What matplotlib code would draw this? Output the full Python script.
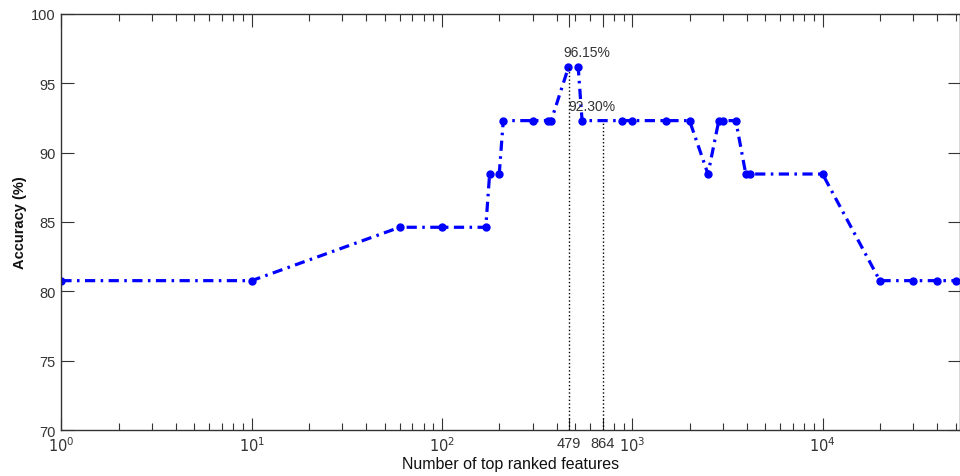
import matplotlib
matplotlib.use('Agg')
import matplotlib.pyplot as plt
from matplotlib.ticker import FixedLocator, LogLocator, NullFormatter

plt.rcParams['font.family'] = ['Liberation Sans', 'DejaVu Sans']

# number of top ranked features vs accuracy
n_features = [1, 10, 60, 100, 170, 178, 200, 210, 300, 360, 375, 462, 520, 545,
              880, 1000, 1500, 2000, 2500, 2850, 3000, 3500, 3950, 4150, 10000,
              20000, 30000, 40000, 50000]
accuracy = [80.77, 80.77, 84.62, 84.62, 84.62, 88.46, 88.46, 92.31, 92.31, 92.31,
            92.31, 96.15, 96.15, 92.31, 92.31, 92.31, 92.31, 92.31, 88.46, 92.31,
            92.31, 92.31, 88.46, 88.46, 88.46, 80.77, 80.77, 80.77, 80.77]

# marked features (label text, drawn position, level)
mark_labels = ['479', '864']
mark_pos = [466, 700]
mark_acc = [96.15, 92.30]
mark_text = ['96.15%', '92.30%']

decades = [1, 10, 100, 1000, 10000]
dec_labels = ['$10^{0}$', '$10^{1}$', '$10^{2}$', '$10^{3}$', '$10^{4}$']

fig = plt.figure(figsize=(9.6, 4.77), dpi=100)
ax = fig.add_axes([0.0639, 0.0964, 0.9365, 0.8722])

ax.plot(n_features, accuracy, color='#0000ff', linestyle='-.', linewidth=2.3,
        marker='o', markersize=5, dashes=(3.2, 1.7, 0.8, 1.7))

for xp, ya in zip(mark_pos, mark_acc):
    ax.plot([xp, xp], [70, ya], color='black', linestyle=':', linewidth=1.0)

ax.text(576, 96.75, mark_text[0], ha='center', va='bottom', fontsize=10, color='#333333')
ax.text(614, 92.85, mark_text[1], ha='center', va='bottom', fontsize=10, color='#333333')

ax.set_xscale('log')
ax.set_xlim(1, 53000)
ax.set_ylim(70, 100)

ax.xaxis.set_major_locator(FixedLocator(decades + mark_pos))
ax.set_xticklabels(dec_labels + mark_labels)
ax.xaxis.set_minor_locator(LogLocator(base=10, subs=range(2, 10), numticks=20))
ax.xaxis.set_minor_formatter(NullFormatter())
ax.set_yticks([70, 75, 80, 85, 90, 95, 100])

ax.tick_params(which='major', direction='in', length=9, width=0.8, top=True, right=True,
               labelsize=10.5, labelcolor='#333333', color='#333333', pad=4)
ax.tick_params(which='minor', direction='in', length=5, width=0.8, top=True, right=True,
               color='#333333')
for s in ax.spines.values():
    s.set_color('#333333')
    s.set_linewidth(1.0)

ax.set_xlabel('Number of top ranked features', fontsize=11.5, color='#111111', labelpad=1)
ax.set_ylabel('Accuracy (%)', fontsize=10.5, fontweight='bold', color='#111111', labelpad=3)

fig.savefig('out.png', dpi=100)
